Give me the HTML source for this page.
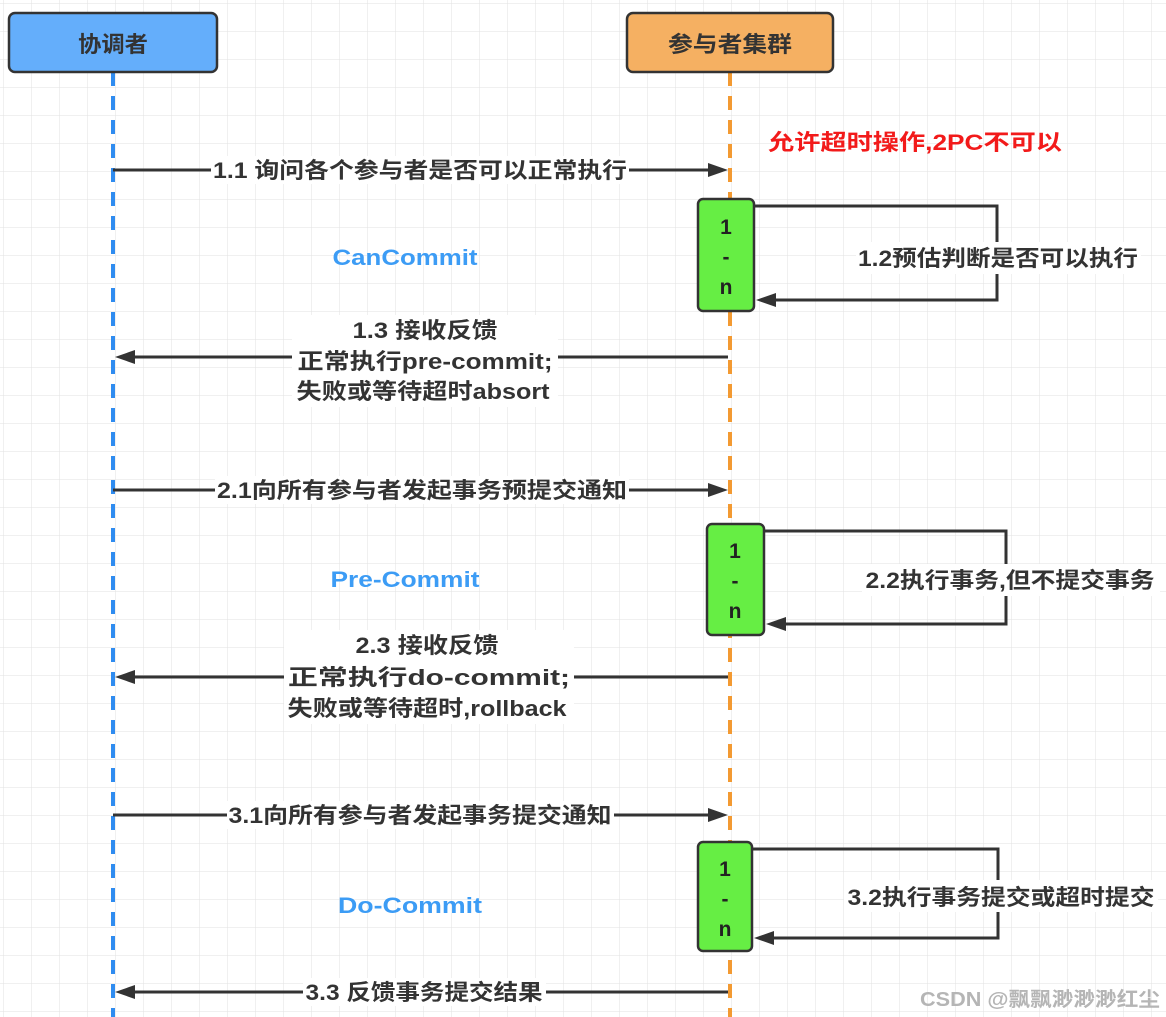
<!DOCTYPE html>
<html><head><meta charset="utf-8"><style>
html,body{margin:0;padding:0;background:#fff;}
svg{display:block;}
text{font-family:"Liberation Sans","Noto Sans CJK SC",sans-serif;font-weight:bold;}
</style></head><body>
<svg width="1166" height="1017" viewBox="0 0 1166 1017" xmlns="http://www.w3.org/2000/svg">
<defs>
<pattern id="g" width="28" height="28" patternUnits="userSpaceOnUse" x="3" y="3">
<path d="M28 0H0V28" fill="none" stroke="#e2e2e2" stroke-width="1"/>
</pattern>
</defs>
<rect width="1166" height="1017" fill="url(#g)"/>
<line x1="113" y1="72" x2="113" y2="1017" stroke="#2f8cf0" stroke-width="4" stroke-dasharray="14,10"/>
<line x1="730" y1="72" x2="730" y2="1017" stroke="#f39a32" stroke-width="4" stroke-dasharray="14,10"/>
<rect x="9" y="13" width="208" height="59" rx="6" fill="#64aefb" stroke="#333" stroke-width="2.5"/>
<text x="113" y="52" font-size="22" text-anchor="middle" fill="#333" textLength="70" lengthAdjust="spacingAndGlyphs">协调者</text>
<rect x="627" y="13" width="206" height="59" rx="6" fill="#f5b062" stroke="#333" stroke-width="2.5"/>
<text x="730" y="52" font-size="22" text-anchor="middle" fill="#333" textLength="124" lengthAdjust="spacingAndGlyphs">参与者集群</text>
<text x="768" y="150" font-size="22" fill="#f21a1a" textLength="294" lengthAdjust="spacingAndGlyphs">允许超时操作,2PC不可以</text>

<g stroke="#333" stroke-width="3" fill="none">
<line x1="113" y1="170" x2="712" y2="170"/>
<polyline points="754,206 997,206 997,300 770,300"/>
<line x1="728" y1="357" x2="130" y2="357"/>
<line x1="113" y1="490" x2="712" y2="490"/>
<polyline points="764,531 1006,531 1006,624 780,624"/>
<line x1="728" y1="677" x2="130" y2="677"/>
<line x1="113" y1="815" x2="712" y2="815"/>
<polyline points="752,849 998,849 998,938 768,938"/>
<line x1="728" y1="992" x2="130" y2="992"/>
</g>
<g fill="#333">
<polygon points="728,170 708,163 708,177"/>
<polygon points="756,300 776,293 776,307"/>
<polygon points="115,357 135,350 135,364"/>
<polygon points="728,490 708,483 708,497"/>
<polygon points="766,624 786,617 786,631"/>
<polygon points="115,677 135,670 135,684"/>
<polygon points="728,815 708,808 708,822"/>
<polygon points="754,938 774,931 774,945"/>
<polygon points="115,992 135,985 135,999"/>
</g>

<rect x="698" y="199" width="56" height="112" rx="5" fill="#66ee44" stroke="#333" stroke-width="2.5"/>
<text x="726" y="234" font-size="21" text-anchor="middle" fill="#222">1</text>
<text x="726" y="264" font-size="21" text-anchor="middle" fill="#222">-</text>
<text x="726" y="294" font-size="21" text-anchor="middle" fill="#222">n</text>
<rect x="707" y="524" width="57" height="111" rx="5" fill="#66ee44" stroke="#333" stroke-width="2.5"/>
<text x="735" y="558" font-size="21" text-anchor="middle" fill="#222">1</text>
<text x="735" y="588" font-size="21" text-anchor="middle" fill="#222">-</text>
<text x="735" y="618" font-size="21" text-anchor="middle" fill="#222">n</text>
<rect x="698" y="842" width="54" height="109" rx="5" fill="#66ee44" stroke="#333" stroke-width="2.5"/>
<text x="725" y="876" font-size="21" text-anchor="middle" fill="#222" font-weight="normal">1</text>
<text x="725" y="906" font-size="21" text-anchor="middle" fill="#222" font-weight="normal">-</text>
<text x="725" y="936" font-size="21" text-anchor="middle" fill="#222" font-weight="normal">n</text>

<g fill="#fff">
<rect x="211" y="156" width="418" height="28"/>
<rect x="856" y="242" width="285" height="32"/>
<rect x="292" y="315" width="266" height="92"/>
<rect x="215" y="476" width="414" height="28"/>
<rect x="862" y="564" width="298" height="32"/>
<rect x="284" y="630" width="290" height="94"/>
<rect x="227" y="801" width="387" height="28"/>
<rect x="844" y="880" width="314" height="32"/>
<rect x="303" y="978" width="243" height="28"/>
</g>
<g fill="#333" font-size="22" text-anchor="middle" lengthAdjust="spacingAndGlyphs">
<text x="420" y="178" textLength="414" lengthAdjust="spacingAndGlyphs">1.1 询问各个参与者是否可以正常执行</text>
<text x="998" y="266" textLength="280" lengthAdjust="spacingAndGlyphs">1.2预估判断是否可以执行</text>
<text x="425" y="338" textLength="145" lengthAdjust="spacingAndGlyphs">1.3 接收反馈</text>
<text x="425" y="369" textLength="255" lengthAdjust="spacingAndGlyphs">正常执行pre-commit;</text>
<text x="423" y="399" textLength="253" lengthAdjust="spacingAndGlyphs">失败或等待超时absort</text>
<text x="422" y="498" textLength="410" lengthAdjust="spacingAndGlyphs">2.1向所有参与者发起事务预提交通知</text>
<text x="1010" y="588" textLength="289" lengthAdjust="spacingAndGlyphs">2.2执行事务,但不提交事务</text>
<text x="427" y="653" textLength="143" lengthAdjust="spacingAndGlyphs">2.3 接收反馈</text>
<text x="429" y="685" textLength="282" lengthAdjust="spacingAndGlyphs">正常执行do-commit;</text>
<text x="427" y="716" textLength="279" lengthAdjust="spacingAndGlyphs">失败或等待超时,rollback</text>
<text x="420" y="823" textLength="383" lengthAdjust="spacingAndGlyphs">3.1向所有参与者发起事务提交通知</text>
<text x="1001" y="905" textLength="307" lengthAdjust="spacingAndGlyphs">3.2执行事务提交或超时提交</text>
<text x="424" y="1000" textLength="237" lengthAdjust="spacingAndGlyphs">3.3 反馈事务提交结果</text>
</g>
<g fill="#3c9cf5" font-size="22" text-anchor="middle">
<text x="405" y="265" textLength="145" lengthAdjust="spacingAndGlyphs">CanCommit</text>
<text x="405" y="587" textLength="149" lengthAdjust="spacingAndGlyphs">Pre-Commit</text>
<text x="410" y="913" textLength="144" lengthAdjust="spacingAndGlyphs">Do-Commit</text>
</g>
<text x="920" y="1006" font-size="20" fill="#b5b5b5" font-weight="normal" textLength="240" lengthAdjust="spacingAndGlyphs">CSDN @飘飘渺渺渺红尘</text>
</svg>
</body></html>
